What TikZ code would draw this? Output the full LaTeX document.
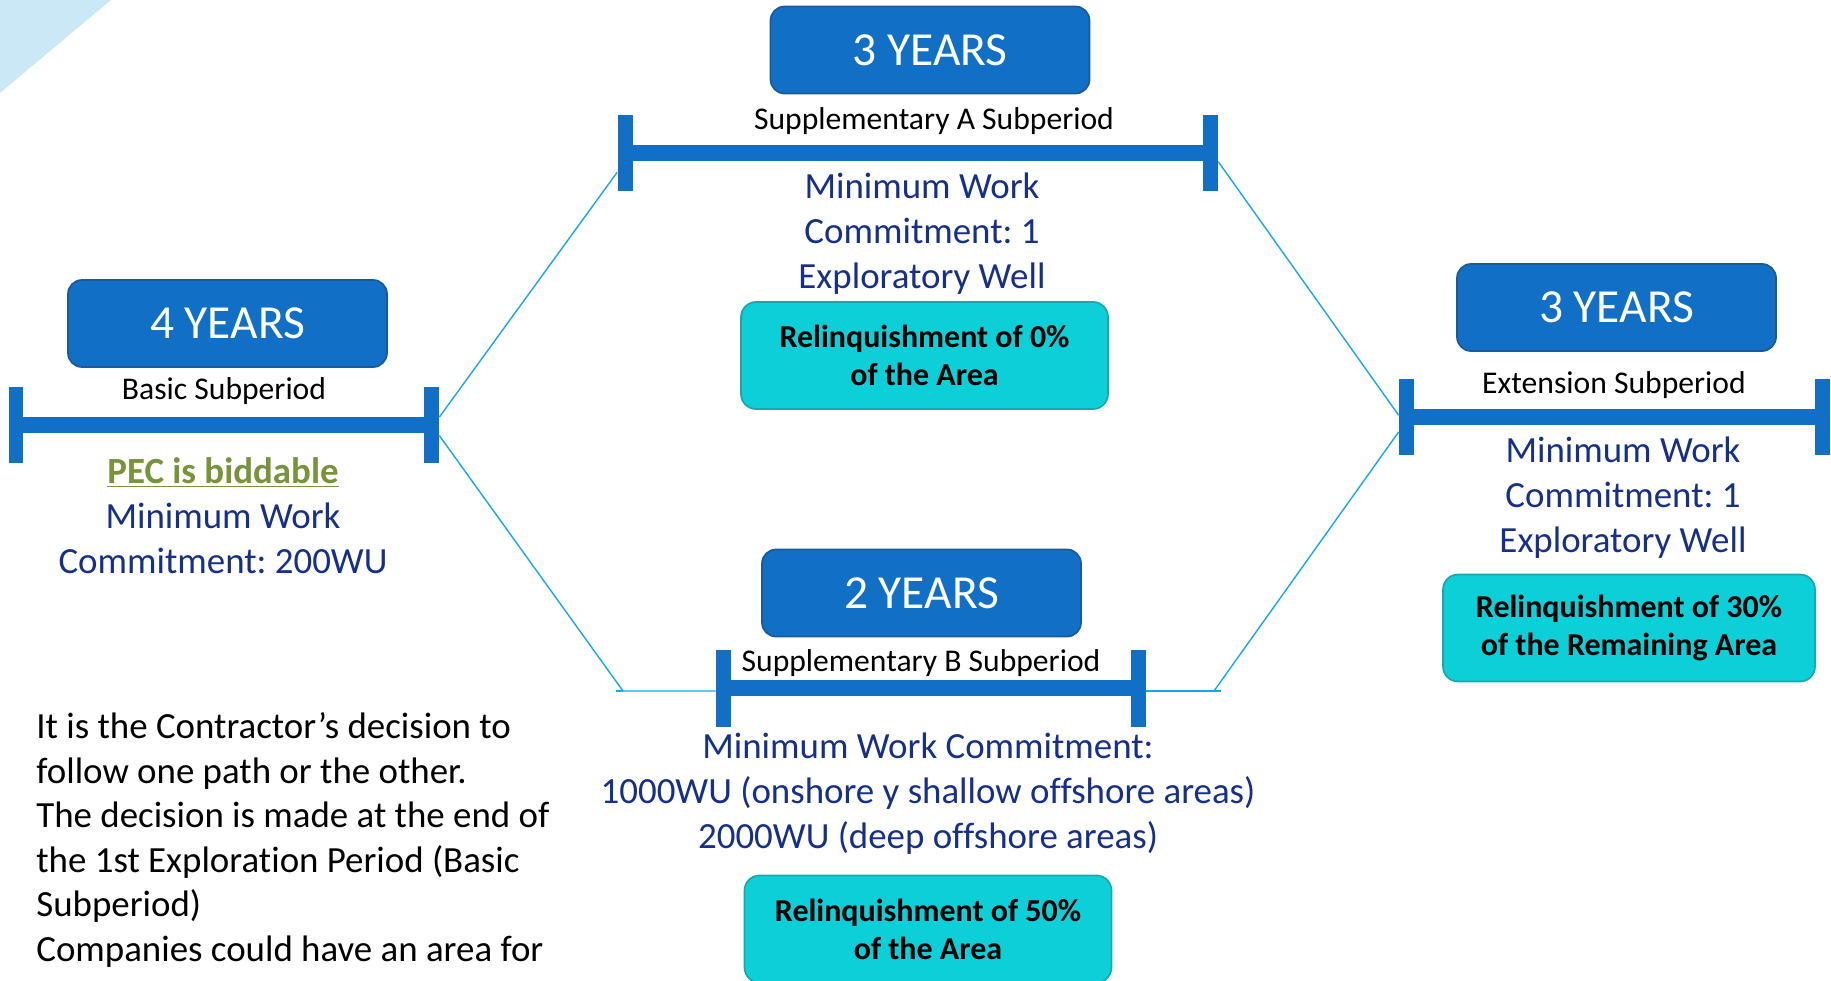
\documentclass[tikz,border=0pt]{standalone}
\usepackage{fontspec}
\setmainfont{Carlito}[Ligatures=NoCommon]
\frenchspacing

\definecolor{yearblue}{HTML}{1170C6}
\definecolor{yearedge}{HTML}{1A5A9A}
\definecolor{barblue}{HTML}{1170C6}
\definecolor{linkblue}{HTML}{1AA7E8}
\definecolor{navytext}{HTML}{16308A}
\definecolor{pecgreen}{HTML}{77933C}
\definecolor{relcyan}{HTML}{0DCFD8}
\definecolor{reledge}{HTML}{17A9AD}
\definecolor{cornerblue}{HTML}{CBE8F6}

\begin{document}
\begin{tikzpicture}[
    x=0.02cm, y=-0.02cm,
    yearbox/.style={rectangle, rounded corners=0.28cm, draw=yearedge, line width=1pt,
                    fill=yearblue, text=white, minimum width=6.38cm, minimum height=1.74cm,
                    font=\fontsize{27}{32}\selectfont},
    relbox/.style={rectangle, rounded corners=0.3cm, draw=reledge, line width=1pt,
                   fill=relcyan, minimum width=7.34cm, minimum height=2.14cm, align=center,
                   font=\bfseries\fontsize{18.2}{21.6}\selectfont},
    sublabel/.style={font=\fontsize{18}{21}\selectfont},
    worktext/.style={text=navytext, align=center, font=\fontsize{21}{25.6}\selectfont},
    tick/.style={rectangle, fill=barblue, minimum width=0.3cm, minimum height=1.54cm, inner sep=0pt},
    bar/.style={draw=barblue, line width=0.32cm},
    link/.style={draw=linkblue, line width=0.8pt}
]
\useasboundingbox (0,0) rectangle (1831,980);
\clip (0,0) rectangle (1831,980);

% Corner decoration
\fill[cornerblue] (0,0) -- (111,0) -- (0,93) -- cycle;

% Basic Subperiod (Left)
\node[yearbox] (basic) at (227.5, 323.5) {4 YEARS};
\node[sublabel] (basic_lbl) at (224, 391) {Basic Subperiod};
\node[tick] (basic_l) at (16, 425) {};
\node[tick] (basic_r) at (431.5, 425) {};
\node[worktext] (basic_work) at (223, 516) {\textcolor{pecgreen}{\textbf{\underline{PEC is biddable}}}\\
    Minimum Work\\ Commitment: 200WU};

% Supplementary A Subperiod (Top)
\node[yearbox] (suppA) at (930, 50) {3 YEARS};
\node[sublabel] (suppA_lbl) at (934, 121) {Supplementary A Subperiod};
\node[tick] (suppA_l) at (625, 153) {};
\node[tick] (suppA_r) at (1210.5, 153) {};
\node[worktext] (suppA_work) at (922, 234) {Minimum Work\\ Commitment: 1\\ Exploratory Well};
\node[relbox] (suppA_rel) at (924.5, 355.5) {Relinquishment of 0\%\\ of the Area};

% Supplementary B Subperiod (Bottom)
\node[yearbox] (suppB) at (921.5, 593) {2 YEARS};
\node[sublabel] (suppB_lbl) at (921, 663) {Supplementary B Subperiod};
\node[tick] (suppB_l) at (723.5, 688) {};
\node[tick] (suppB_r) at (1138, 688) {};
\node[worktext] (suppB_work) at (928, 794) {Minimum Work Commitment:\\
    1000WU (onshore y shallow offshore areas)\\ 2000WU (deep offshore areas)};
\node[relbox] (suppB_rel) at (928, 929) {Relinquishment of 50\%\\ of the Area};

% Extension Subperiod (Right)
\node[yearbox] (ext) at (1616.5, 307.5) {3 YEARS};
\node[sublabel] (ext_lbl) at (1614, 385) {Extension Subperiod};
\node[tick] (ext_l) at (1406.5, 417) {};
\node[tick] (ext_r) at (1822, 417) {};
\node[worktext] (ext_work) at (1623, 498) {Minimum Work\\ Commitment: 1\\ Exploratory Well};
\node[relbox, minimum width=7.44cm] (ext_rel) at (1629, 628) {Relinquishment of 30\%\\ of the Remaining Area};

% Bars
\foreach \p in {basic, suppA, suppB, ext} {
    \draw[bar] (\p_l.center) -- (\p_r.center);
}

% Paths
\coordinate (split_l) at (623, 691);
\coordinate (split_r) at (1214, 691);
\draw[link] ([yshift=4.5pt]basic_r.east) -- ([yshift=-11pt]suppA_l.west);
\draw[link] ([yshift=-6pt]basic_r.east) -- (split_l) -- (suppB_l.west |- split_l);
\draw[link] ([xshift=-4pt]split_l) -- (split_l);
\draw[link] ([yshift=-5pt]suppA_r.east) -- ([yshift=1pt]ext_l.west);
\draw[link] (suppB_r.east |- split_r) -- ([xshift=4pt]split_r);
\draw[link] (split_r) -- ([yshift=-8.5pt]ext_l.west);

% Note
\node[anchor=north west, inner sep=0pt, align=left, font=\fontsize{21}{25.4}\selectfont] (note) at (36, 712)
    {It is the Contractor’s decision to\\ follow one path or the other.\\
     The decision is made at the end of\\ the 1st Exploration Period (Basic\\
     Subperiod)\\ Companies could have an area for};

\end{tikzpicture}
\end{document}
